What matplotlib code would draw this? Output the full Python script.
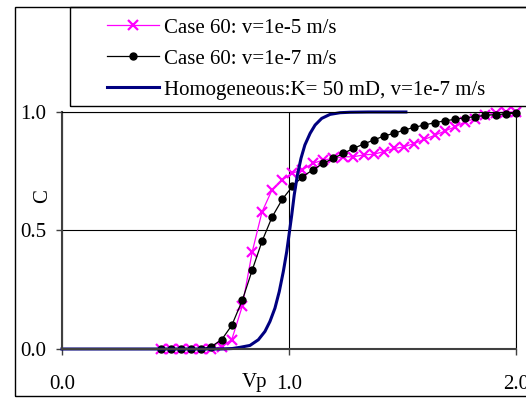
import numpy as np
import matplotlib
matplotlib.use('Agg')
import matplotlib.pyplot as plt
from matplotlib.patches import Rectangle

plt.rcParams['font.family'] = ['Liberation Serif', 'DejaVu Serif']

# pore volumes for the two Case 60 runs
vp_case = [0.435, 0.480, 0.524, 0.570, 0.612, 0.658, 0.704, 0.748, 0.794, 0.838,
           0.881, 0.925, 0.970, 1.015, 1.059, 1.104, 1.150, 1.194, 1.239, 1.283,
           1.329, 1.374, 1.419, 1.463, 1.507, 1.551, 1.595, 1.643, 1.687, 1.731,
           1.775, 1.819, 1.863, 1.912, 1.956, 2.000]
c_v5 = [0, 0, 0, 0, 0, 0, 0.01, 0.04, 0.18, 0.41,
        0.578, 0.671, 0.713, 0.742, 0.756, 0.783, 0.797, 0.804, 0.811, 0.811,
        0.819, 0.822, 0.833, 0.846, 0.853, 0.867, 0.884, 0.902, 0.92, 0.937,
        0.958, 0.972, 0.987, 0.997, 1.0, 1.0]
c_v7 = [0, 0, 0, 0, 0, 0.01, 0.04, 0.10, 0.205, 0.333,
        0.454, 0.556, 0.631, 0.686, 0.727, 0.755, 0.783, 0.804, 0.825, 0.846,
        0.865, 0.882, 0.899, 0.91, 0.924, 0.935, 0.945, 0.955, 0.963, 0.969,
        0.976, 0.98, 0.986, 0.989, 0.992, 0.995]

# homogeneous case
vp_hom = [0.0, 0.70, 0.75, 0.784, 0.828, 0.865, 0.894, 0.916, 0.938, 0.957,
          0.975, 0.990, 1.001, 1.012, 1.023, 1.037, 1.053, 1.070, 1.093, 1.115,
          1.144, 1.181, 1.225, 1.269, 1.35, 1.515]
c_hom = [0, 0, 0.002, 0.007, 0.015, 0.039, 0.074, 0.116, 0.172, 0.242,
         0.327, 0.411, 0.488, 0.565, 0.65, 0.734, 0.805, 0.861, 0.910, 0.945,
         0.973, 0.990, 0.997, 0.999, 1.0, 1.0]

labels = ['Case 60: v=1e-5 m/s', 'Case 60: v=1e-7 m/s',
          'Homogeneous:K= 50 mD, v=1e-7 m/s']

W, H = 526, 401
fig = plt.figure(figsize=(W / 100, H / 100), dpi=100)
ax = fig.add_axes([62 / W, 1 - 349 / H, 454 / W, 237 / H])

ax.plot(vp_case, c_v5, color='#FF00FF', lw=0.9, marker='x', ms=7, mew=1.6,
        clip_on=False, label=labels[0])
ax.plot(vp_case, c_v7, color='black', lw=0.9, marker='o', ms=5,
        clip_on=False, label=labels[1])
ax.plot(vp_hom, c_hom, color='#000080', lw=2.2, clip_on=False, label=labels[2])

ax.set_xlim(0, 2)
ax.set_ylim(0, 1)
ax.set_xticks([0, 1, 2])
ax.set_xticklabels(['0.0', '1.0', '2.0'])
ax.set_yticks([0, 0.5, 1])
ax.set_yticklabels(['0.0', '0.5', '1.0'])
ax.grid(True, color='black', lw=0.8)
ax.set_axisbelow(True)
ax.tick_params(direction='out', length=4.5, width=1, color='#404040',
               labelsize=15, pad=7)
ax.tick_params(axis='x', pad=14)
for s in ['left', 'bottom']:
    ax.spines[s].set_color('#404040')
    ax.spines[s].set_linewidth(1.5)
for s in ['top', 'right']:
    ax.spines[s].set_color('black')
    ax.spines[s].set_linewidth(0.8)

ax.set_ylabel('C', fontsize=15)
ax.yaxis.set_label_coords(-0.022, 0.645)
ax.set_xlabel('Vp', fontsize=15)
ax.xaxis.set_label_coords(0.425, -0.1)

leg = fig.legend(loc='upper left', bbox_to_anchor=(107 / W, 1 - 18 / H),
                 frameon=False, fontsize=15, borderpad=0, borderaxespad=0,
                 handlelength=2.5, handletextpad=0.25, labelspacing=0.55)

# legend box and outer chart frame
fig.add_artist(Rectangle((70 / W, 1 - 106 / H), 500 / W, 99 / H,
                         transform=fig.transFigure, fill=False, ec='black', lw=1))
fig.add_artist(Rectangle((15 / W, 1 - 396 / H), 520 / W, 389 / H,
                         transform=fig.transFigure, fill=False, ec='black', lw=1))

fig.savefig('out.png', dpi=100)
